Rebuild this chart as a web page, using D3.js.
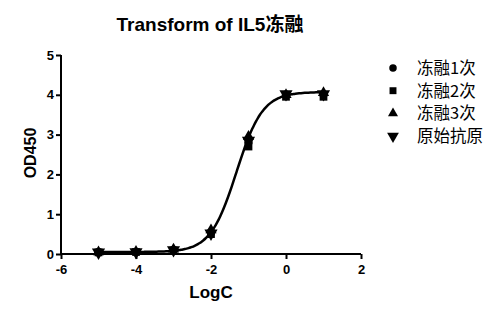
<!DOCTYPE html>
<html><head><meta charset="utf-8">
<script src="https://cdn.jsdelivr.net/npm/d3@7/dist/d3.min.js"></script>
<style>body{margin:0;background:#fff}svg{display:block}</style>
</head><body><svg id="c" width="500" height="318"></svg>
<script>
const title = "Transform of IL5冻融";
const xLabel = "LogC";
const yLabel = "OD450";
const logC = [-5, -4, -3, -2, -1, 0, 1];
const seriesNames = ["冻融1次", "冻融2次", "冻融3次", "原始抗原"];
const s1 = [0.05, 0.05, 0.10, 0.55, 2.80, 4.00, 4.00];
const s2 = [0.04, 0.05, 0.09, 0.50, 2.70, 3.95, 3.95];
const s3 = [0.05, 0.06, 0.12, 0.60, 2.95, 4.00, 4.05];
const s4 = [0.04, 0.05, 0.10, 0.52, 2.85, 4.02, 4.02];
const xTicks = [-6, -4, -2, 0, 2];
const yTicks = [0, 1, 2, 3, 4, 5];
// fitted four-parameter logistic (bottom, top, logEC50, hill)
const fitBottom = 0.05, fitTop = 4.07, fitLogEC50 = -1.32, fitHill = 1.25;

const svg = d3.select("#c");
const x = d3.scaleLinear().domain([-6, 2]).range([61, 361]);
const y = d3.scaleLinear().domain([0, 5]).range([254, 55]);
const font = "Arial, 'Liberation Sans', sans-serif";

svg.append("text").attr("x", 210).attr("y", 31).attr("text-anchor", "middle")
  .attr("font-family", font + ", 'Noto Sans CJK SC'").attr("font-weight", "bold").attr("font-size", 19)
  .text(title);

const xa = svg.append("g").attr("transform", "translate(0,254)")
  .call(d3.axisBottom(x).tickValues(xTicks).tickSize(5).tickPadding(3).tickFormat(d => String(d)));
const ya = svg.append("g").attr("transform", "translate(61,0)")
  .call(d3.axisLeft(y).tickValues(yTicks).tickSize(5).tickPadding(2).tickFormat(d => String(d)));
[xa, ya].forEach(a => {
  a.select(".domain").attr("stroke-width", 2).attr("stroke", "#000");
  a.selectAll(".tick line").attr("stroke-width", 2).attr("stroke", "#000");
  a.selectAll("text").attr("font-family", font).attr("font-weight", "bold").attr("font-size", 13).attr("fill", "#000");
});
ya.select(".domain").attr("d", "M0,254V55");
xa.select(".domain").attr("d", "M61,0H361");
xa.selectAll(".tick text").attr("dy", "0.9em");

svg.append("text").attr("x", 211).attr("y", 298).attr("text-anchor", "middle")
  .attr("font-family", font).attr("font-weight", "bold").attr("font-size", 17).text(xLabel);
svg.append("text").attr("transform", "translate(36,153) rotate(-90)").attr("text-anchor", "middle")
  .attr("font-family", font).attr("font-weight", "bold").attr("font-size", 16).text(yLabel);

// fitted curve
const fit = v => fitBottom + (fitTop - fitBottom) / (1 + Math.pow(10, (fitLogEC50 - v) * fitHill));
const curveX = d3.range(-5, 1.0001, 0.05);
svg.append("path").datum(curveX)
  .attr("d", d3.line().x(d => x(d)).y(d => y(fit(d))).curve(d3.curveBasis))
  .attr("fill", "none").attr("stroke", "#000").attr("stroke-width", 2.5);

const symbols = [d3.symbolCircle, d3.symbolSquare, d3.symbolTriangle, d3.symbolTriangle];
const rot = [0, 0, 0, 180];
const sizes = [55, 60, 55, 75];
const allSeries = [s1, s2, s3, s4];
allSeries.forEach((s, i) => {
  svg.append("g").selectAll("path").data(s).join("path")
    .attr("d", d3.symbol().type(symbols[i]).size(sizes[i]))
    .attr("transform", (d, j) => `translate(${x(logC[j])},${y(d)}) rotate(${rot[i]})`)
    .attr("fill", "#000");
});

const lg = svg.append("g");
seriesNames.forEach((n, i) => {
  const yy = 68 + i * 22.7;
  lg.append("path").attr("d", d3.symbol().type(symbols[i]).size(sizes[i] * 0.8)())
    .attr("transform", `translate(393,${yy}) rotate(${rot[i]})`).attr("fill", "#000");
  lg.append("text").attr("x", 417).attr("y", yy).attr("dy", "0.36em")
    .attr("font-family", "'Noto Sans CJK SC', sans-serif").attr("font-size", 16.5).text(n);
});
</script></body></html>
